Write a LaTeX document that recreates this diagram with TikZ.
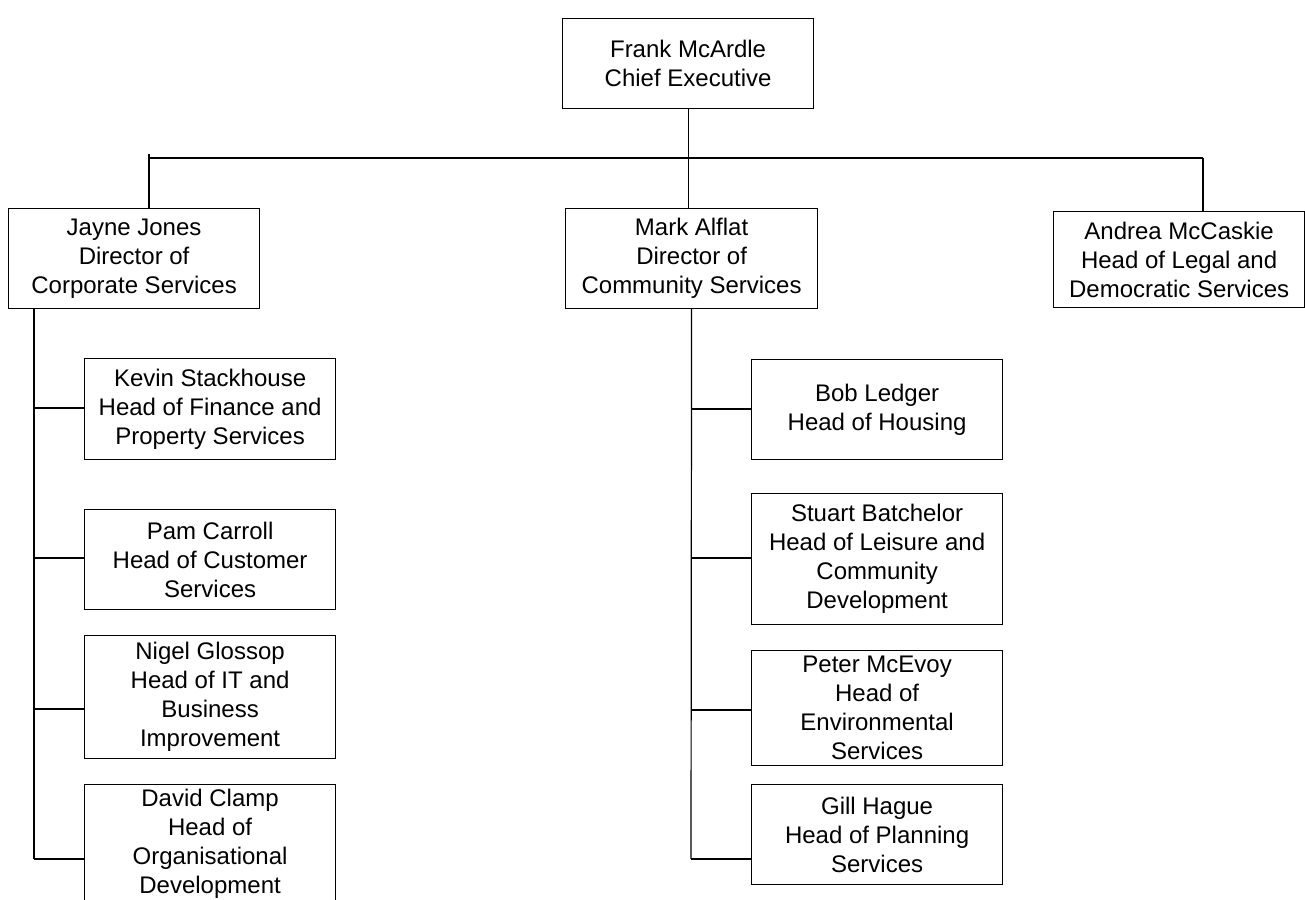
\documentclass[tikz,border=0pt]{standalone}
\usepackage{fontspec}
\setmainfont{Liberation Sans}
\usetikzlibrary{positioning}

\tikzset{
  post/.style={draw, line width=1.2pt, align=center, inner sep=0pt, minimum width=251pt, anchor=north west, font=\fontsize{24}{29}\selectfont},
  link/.style={line width=1.2pt}
}

\begin{document}
\begin{tikzpicture}[x=1pt, y=-1pt]
      \useasboundingbox (0,0) rectangle (1305,899);
      \clip (0,0) rectangle (1305,899);

      \node[post, minimum height=90pt] (ceo) at (562,18) {Frank McArdle\\Chief Executive};

      \node[post, minimum height=100pt] (corp) at (8,208) {Jayne Jones\\Director of\\Corporate Services};
      \node[post, minimum height=100pt, minimum width=252pt] (comm) at (565,208) {Mark Alflat\\Director of\\Community Services};
      \node[post, minimum height=96pt] (legal) at (1053,211) {Andrea McCaskie\\Head of Legal and\\Democratic Services};

      \node[post, minimum height=101pt] (fin) at (84,358) {Kevin Stackhouse\\Head of Finance and\\Property Services};
      \node[post, minimum height=100pt] (cust) at (84,509) {Pam Carroll\\Head of Customer\\Services};
      \node[post, minimum height=123pt] (it) at (84,635) {Nigel Glossop\\Head of IT and\\Business\\Improvement};
      \node[post, minimum height=118pt] (od) at (84,784) {David Clamp\\Head of\\Organisational\\Development};

      \node[post, minimum height=100pt] (hous) at (751,359) {Bob Ledger\\Head of Housing};
      \node[post, minimum height=131pt] (leis) at (751,493) {Stuart Batchelor\\Head of Leisure and\\Community\\Development};
      \node[post, minimum height=115pt] (env) at (751,650) {Peter McEvoy\\Head of\\Environmental\\Services};
      \node[post, minimum height=100pt] (plan) at (751,784) {Gill Hague\\Head of Planning\\Services};

      \coordinate (busL) at (149,158);
      \coordinate (busR) at (1203,158);
      \coordinate (bL1) at (34,408);
      \coordinate (bL2) at (34,558);
      \coordinate (bL3) at (34,709);
      \coordinate (bL4) at (34,859);
      \coordinate (bR1) at (691,409);
      \coordinate (bR2) at (691,558);
      \coordinate (bR3) at (691,710);
      \coordinate (bR4) at (691,859);

      \draw[link] (ceo) -- (ceo |- busL);
      \draw[link] (busL) -- (busR);
      \draw[link] ([yshift=4pt]busL) -- (busL |- corp.north);
      \draw[link] (ceo |- busL) -- (ceo |- comm.north);
      \draw[link] (busR) -- (busR |- legal.north);

      \draw[link] (bL4 |- corp.south) -- (bL4);
      \draw[link] (comm) -- (bR4);

      \foreach \n/\b in {fin/bL1, cust/bL2, it/bL3, od/bL4, hous/bR1, leis/bR2, env/bR3, plan/bR4}
        \draw[link] (\b) -- (\b -| \n.west);
\end{tikzpicture}
\end{document}
